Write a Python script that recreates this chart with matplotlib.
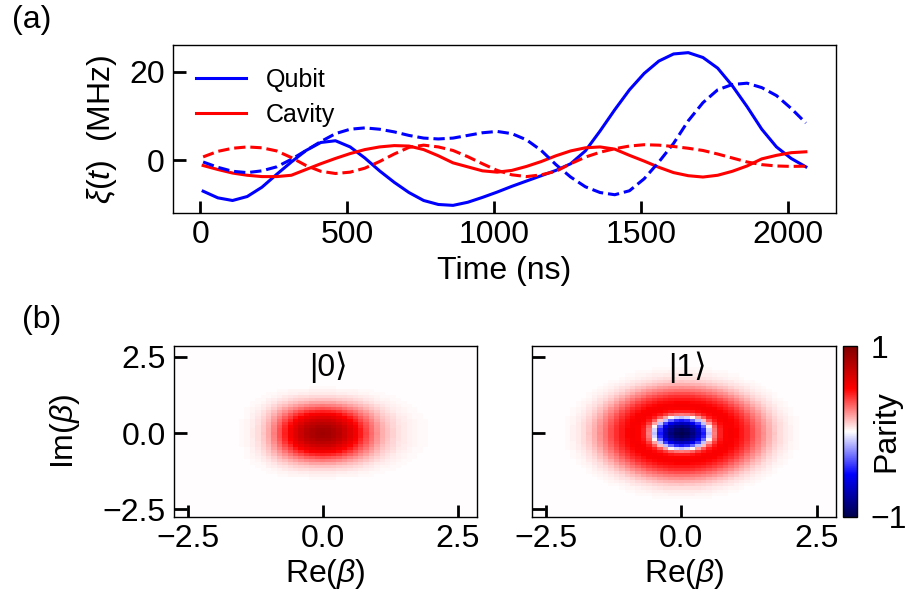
import numpy as np
import matplotlib
matplotlib.use("Agg")
import matplotlib.pyplot as plt

plt.rcParams['font.family'] = ['Liberation Sans', 'DejaVu Sans']
plt.rcParams['font.size'] = 23
plt.rcParams['mathtext.fontset'] = 'custom'
plt.rcParams['mathtext.rm'] = 'Liberation Sans'
plt.rcParams['mathtext.it'] = 'Liberation Sans:italic'

# ---------------- panel (a) data ----------------
time_ns = np.arange(10, 2061, 50)
qubit_solid = [-7.0, -8.5, -9.1, -8.2, -6.1, -3.2, -0.4, 2.2, 4.0, 4.4, 3.0, 0.5,
               -2.4, -5.0, -7.3, -9.1, -10.0, -10.2, -9.5, -8.4, -7.2, -5.9, -4.7,
               -3.5, -2.3, -0.8, 2.1, 6.6, 11.4, 15.9, 19.6, 22.4, 24.0, 24.3, 23.2,
               20.8, 16.8, 12.1, 7.0, 3.0, 0.4, -1.5]
qubit_dashed = [-0.4, -1.6, -2.5, -2.8, -2.4, -1.5, 0.2, 2.2, 4.2, 6.0, 7.0, 7.3,
                7.0, 6.4, 5.6, 5.0, 4.8, 5.0, 5.6, 6.2, 6.5, 6.0, 4.6, 2.2, -1.0,
                -3.8, -6.0, -7.3, -7.8, -6.9, -4.2, -0.4, 3.8, 8.9, 13.0, 15.9,
                17.1, 17.4, 16.4, 14.6, 11.7, 8.4]
cavity_solid = [-1.2, -2.1, -2.9, -3.4, -3.7, -3.7, -3.4, -2.1, -0.8, 0.4, 1.5, 2.4,
                3.0, 3.3, 3.2, 2.4, 1.0, -0.6, -1.5, -2.4, -2.7, -2.3, -1.4, -0.3,
                1.0, 2.1, 2.8, 3.0, 2.5, 1.1, -0.2, -1.6, -2.8, -3.5, -3.8, -3.4,
                -2.5, -1.3, 0.3, 1.1, 1.7, 1.9]
cavity_dashed = [0.75, 2.0, 2.7, 3.0, 2.8, 2.1, 0.6, -1.2, -2.5, -3.0, -2.7, -1.8,
                 -0.3, 1.4, 2.9, 3.4, 3.0, 2.2, 0.8, -0.8, -2.3, -3.3, -3.7, -3.3,
                 -2.5, -0.8, 0.7, 1.8, 2.6, 3.2, 3.5, 3.4, 3.1, 2.7, 2.2, 1.4, 0.5,
                 -0.4, -1.0, -1.3, -1.4, -1.35]
xticks_a = [0, 500, 1000, 1500, 2000]
yticks_a = [0, 20]

# ---------------- panel (b) data ----------------
grid_beta = np.round(np.arange(-2.7, 2.81, 0.1), 2)   # 56 cell centres
# |0>: parity profile along Re(beta) (Im=0) and relative profile along Im(beta)
zero_re_profile = [0]*12 + [0.01, 0.02, 0.04, 0.07, 0.11, 0.17, 0.25, 0.34, 0.44,
                            0.53, 0.62, 0.70, 0.77, 0.82, 0.85, 0.86, 0.85, 0.82,
                            0.77, 0.70, 0.62, 0.54, 0.45, 0.37, 0.29, 0.22, 0.16,
                            0.12, 0.09, 0.06, 0.045, 0.03, 0.02, 0.015, 0.01] + [0]*9
zero_im_profile = [0]*12 + [0.01, 0.03, 0.05, 0.09, 0.14, 0.21, 0.30, 0.40, 0.51,
                            0.62, 0.72, 0.81, 0.89, 0.95, 0.99, 1.0, 0.99, 0.95,
                            0.89, 0.81, 0.72, 0.62, 0.51, 0.40, 0.30, 0.21, 0.14,
                            0.09, 0.05, 0.03, 0.01] + [0]*13
# |1>: radial parity profile
one_radius = [0.0, 0.1, 0.2, 0.3, 0.4, 0.5, 0.6, 0.7, 0.8, 0.9, 1.0, 1.1, 1.2, 1.3,
              1.4, 1.5, 1.6, 1.7, 1.8, 1.9, 2.0, 2.1, 2.2, 4.0]
one_parity = [-1.0, -0.96, -0.86, -0.70, -0.46, -0.12, 0.25, 0.44, 0.50, 0.52, 0.50,
              0.46, 0.41, 0.35, 0.28, 0.22, 0.16, 0.11, 0.07, 0.045, 0.025, 0.012,
              0.005, 0.0]
ticks_b = [-2.5, 0.0, 2.5]
state_labels = ['|0⟩', '|1⟩']

# ---------------- figure ----------------
W, H = 910, 600
fig = plt.figure(figsize=(W/100, H/100), dpi=100)

def px_axes(l, t, r, b):
    return fig.add_axes([l/W, 1 - b/H, (r - l)/W, (b - t)/H])

ax1 = px_axes(173, 45, 836, 213)
ax1.plot(time_ns, qubit_solid, color='#0000ff', lw=2.2, label='Qubit')
ax1.plot(time_ns, cavity_solid, color='#ff0000', lw=2.2, label='Cavity')
ax1.plot(time_ns, qubit_dashed, color='#0000ff', lw=2.2, ls='--')
ax1.plot(time_ns, cavity_dashed, color='#ff0000', lw=2.2, ls='--')
ax1.set_xticks(xticks_a)
ax1.set_yticks(yticks_a)
ax1.set_xlabel('Time (ns)')
ax1.set_ylabel(r'$\xi(t)$  (MHz)')
ax1.xaxis.set_label_coords(0.5, -0.255)
ax1.yaxis.set_label_coords(-0.082, 0.5)
ax1.legend(loc='upper left', frameon=False, fontsize=18, handlelength=2.0,
           handletextpad=0.8, labelspacing=0.45)

axL = px_axes(174, 346, 477, 517)
axR = px_axes(532, 346, 836, 517)
cax = px_axes(843, 346, 857, 517)

X, Y = np.meshgrid(grid_beta, grid_beta)
img0 = np.outer(np.array(zero_im_profile), np.array(zero_re_profile))
img1 = np.interp(np.hypot(X, Y), one_radius, one_parity)
ext = [grid_beta[0] - 0.05, grid_beta[-1] + 0.05, grid_beta[0] - 0.05, grid_beta[-1] + 0.05]

for ax, img, lab in [(axL, img0, state_labels[0]), (axR, img1, state_labels[1])]:
    im = ax.imshow(img, origin='lower', extent=ext, aspect='auto', cmap='seismic',
                   vmin=-1, vmax=1, interpolation='nearest')
    ax.set_xticks(ticks_b)
    ax.set_yticks(ticks_b)
    ax.set_xlabel(r'Re($\beta$)')
    ax.xaxis.set_label_coords(0.5, -0.235)
    ax.text(0.51, 0.965, lab, transform=ax.transAxes, ha='center', va='top',
            fontsize=23, family=['Liberation Sans', 'DejaVu Sans'])
axL.set_ylabel(r'Im($\beta$)')
axL.yaxis.set_label_coords(-0.305, 0.5)
axR.tick_params(axis='y', labelleft=False)

for ax in [ax1, axL, axR]:
    ax.tick_params(direction='in', length=9, width=2, top=False, right=False)
    ax.tick_params(axis='y', pad=6)
    ax.tick_params(axis='x', pad=5)
    for s in ax.spines.values():
        s.set_linewidth(1.0)

cb = fig.colorbar(im, cax=cax, ticks=[-1, 1])
cb.set_label('Parity')
cax.yaxis.set_label_coords(2.0, 0.5)
cax.tick_params(length=0, pad=10)
cb.outline.set_linewidth(1.0)

fig.text(12/W, 1 - 5/H, '(a)', ha='left', va='top', fontsize=23)
fig.text(22/W, 1 - 305/H, '(b)', ha='left', va='top', fontsize=23)

fig.savefig('out.png', dpi=100)
